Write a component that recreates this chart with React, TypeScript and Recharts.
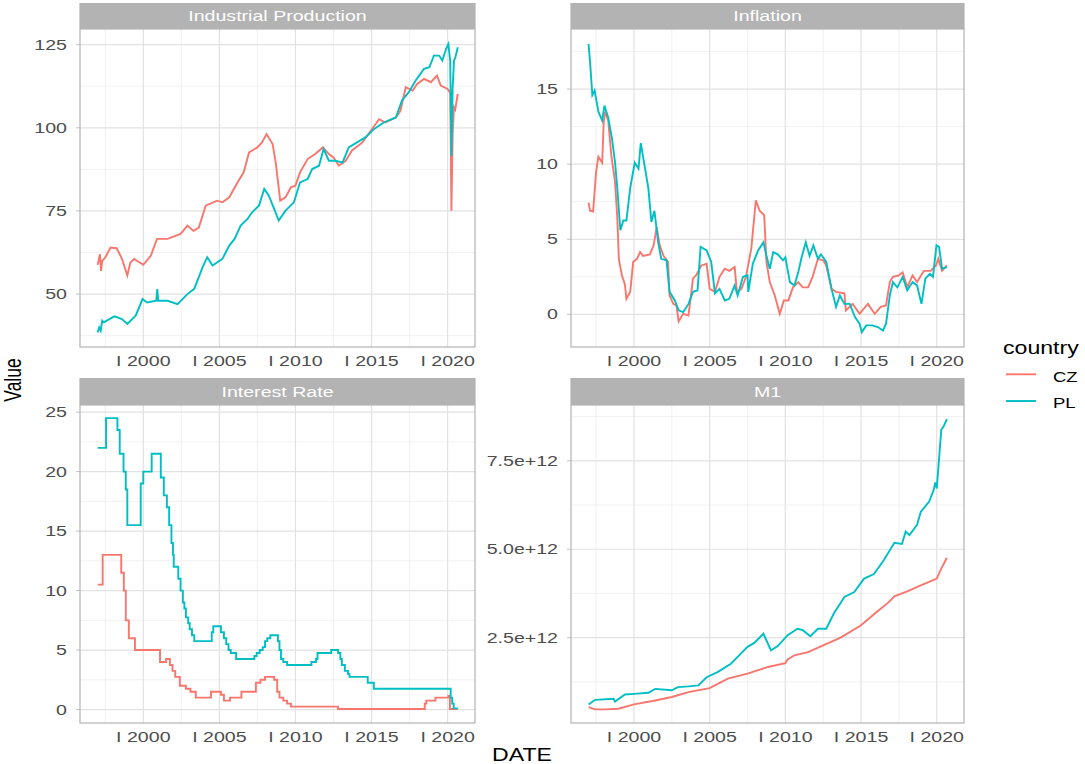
import React from 'react';
import { LineChart, Line, XAxis, YAxis, CartesianGrid } from 'recharts';

// ---- data (decimal year, value) ----

// Industrial Production
const ipCzDate = [1997.0, 1997.15, 1997.22, 1997.3, 1997.5, 1997.85, 1998.25, 1998.6, 1998.95, 1999.15, 1999.4, 2000.0, 2000.5, 2000.9, 2001.6, 2002.45, 2002.9, 2003.3, 2003.65, 2004.1, 2004.85, 2005.2, 2005.65, 2006.2, 2006.6, 2006.95, 2007.5, 2007.8, 2008.1, 2008.5, 2008.7, 2009.0, 2009.35, 2009.7, 2010.0, 2010.3, 2010.8, 2011.3, 2011.8, 2012.2, 2012.5, 2012.85, 2013.3, 2013.7, 2014.4, 2014.95, 2015.5, 2015.9, 2016.6, 2016.9, 2017.25, 2017.7, 2018.0, 2018.45, 2018.9, 2019.3, 2019.55, 2020.0, 2020.17, 2020.25, 2020.33, 2020.42, 2020.5, 2020.67];
const ipCzValue = [58.8, 62, 57, 60, 61, 64, 63.8, 60.6, 55.6, 59.5, 60.6, 58.8, 61.6, 66.6, 66.6, 68.1, 70.6, 69, 70, 76.6, 78.1, 77.6, 79.1, 83.6, 86.6, 92.6, 94.1, 95.6, 98.1, 95.1, 89.6, 78.1, 79.1, 82.1, 82.6, 86.6, 90.6, 92.1, 94.1, 92.1, 91.1, 88.6, 90.1, 93.1, 95.6, 99.1, 102.6, 101.6, 103.1, 105.1, 112.2, 111.2, 113.2, 114.7, 113.7, 115.7, 112.7, 111.7, 110.5, 75.1, 98, 106.2, 105.5, 110.2];
const ipPlDate = [1997.0, 1997.1, 1997.2, 1997.3, 1997.4, 1998.1, 1998.6, 1998.95, 1999.5, 1999.95, 2000.25, 2000.85, 2000.92, 2000.98, 2001.6, 2002.25, 2002.9, 2003.35, 2003.9, 2004.2, 2004.55, 2005.2, 2005.65, 2006.0, 2006.4, 2006.85, 2007.15, 2007.6, 2007.95, 2008.25, 2008.6, 2008.9, 2009.35, 2009.9, 2010.3, 2010.8, 2011.1, 2011.55, 2011.85, 2012.2, 2012.6, 2013.1, 2013.5, 2014.05, 2014.6, 2015.15, 2015.8, 2016.6, 2017.0, 2017.45, 2017.9, 2018.45, 2018.8, 2019.1, 2019.45, 2019.65, 2019.9, 2020.05, 2020.17, 2020.25, 2020.33, 2020.42, 2020.5, 2020.67];
const ipPlValue = [38.5, 40, 39, 42, 41.5, 43.3, 42.5, 41, 43.5, 48.5, 47.5, 48, 51.5, 48, 48, 47, 50, 51.6, 58.1, 61.1, 58.6, 60.6, 64.6, 66.6, 70.6, 72.6, 74.6, 76.6, 81.6, 79.6, 75.6, 72.1, 75.1, 77.6, 83.6, 84.6, 87.6, 88.6, 93.6, 90.1, 90.1, 89.6, 94.1, 95.6, 97.1, 99.6, 101.6, 103.1, 108.2, 110.7, 114.2, 117.7, 118.2, 121.7, 121.7, 120.2, 123.7, 125.2, 120, 91.6, 112, 120.2, 121, 124.2];

// Inflation
const infCzDate = [1997.0, 1997.1, 1997.3, 1997.5, 1997.65, 1997.9, 1998.0, 1998.1, 1998.3, 1998.5, 1998.75, 1998.9, 1999.0, 1999.2, 1999.4, 1999.5, 1999.75, 1999.95, 2000.2, 2000.4, 2000.6, 2001.05, 2001.3, 2001.5, 2001.7, 2001.95, 2002.25, 2002.35, 2002.6, 2002.8, 2002.95, 2003.25, 2003.6, 2003.9, 2004.1, 2004.45, 2004.8, 2005.0, 2005.35, 2005.65, 2006.0, 2006.3, 2006.65, 2006.8, 2007.1, 2007.4, 2007.75, 2008.05, 2008.3, 2008.6, 2008.75, 2008.97, 2009.3, 2009.63, 2009.9, 2010.2, 2010.5, 2010.85, 2011.15, 2011.5, 2011.8, 2012.15, 2012.5, 2012.7, 2013.05, 2013.35, 2013.9, 2014.0, 2014.45, 2014.9, 2015.45, 2015.9, 2016.3, 2016.65, 2016.9, 2017.1, 2017.5, 2017.75, 2018.05, 2018.4, 2018.7, 2019.15, 2019.6, 2019.95, 2020.1, 2020.35, 2020.67];
const infCzValue = [7.43, 6.9, 6.85, 9.5, 10.5, 10.1, 12.8, 13.5, 12.9, 10.6, 8.8, 6.4, 3.7, 2.6, 2.0, 1.04, 1.5, 3.5, 3.7, 4.15, 3.9, 4.0, 4.6, 5.8, 4.6, 3.9, 3.5, 1.26, 0.7, 0.6, -0.47, 0.04, -0.07, 2.4, 2.6, 3.26, 3.37, 1.7, 1.5, 2.5, 3.04, 2.9, 3.15, 1.5, 1.7, 2.5, 4.4, 7.6, 6.9, 6.6, 3.5, 2.15, 1.26, 0.04, 0.93, 0.93, 1.8, 2.15, 1.8, 1.8, 2.5, 3.7, 3.6, 3.26, 1.7, 1.5, 1.4, 0.27, 0.7, 0.04, 0.7, 0.04, 0.5, 0.6, 2.15, 2.5, 2.6, 2.8, 1.8, 2.6, 2.15, 2.9, 2.9, 3.26, 3.7, 2.9, 3.26];
const infPlDate = [1997.0, 1997.1, 1997.25, 1997.4, 1997.65, 1997.9, 1998.05, 1998.3, 1998.55, 1998.75, 1998.9, 1999.1, 1999.3, 1999.5, 1999.75, 2000.05, 2000.3, 2000.45, 2000.7, 2000.95, 2001.15, 2001.35, 2001.6, 2001.8, 2002.15, 2002.35, 2002.7, 2002.95, 2003.25, 2003.6, 2003.9, 2004.2, 2004.4, 2004.8, 2005.1, 2005.35, 2005.65, 2006.0, 2006.3, 2006.65, 2006.85, 2007.2, 2007.5, 2007.55, 2007.85, 2008.2, 2008.55, 2008.75, 2008.97, 2009.2, 2009.5, 2009.85, 2010.0, 2010.3, 2010.6, 2010.85, 2011.05, 2011.35, 2011.6, 2011.85, 2012.15, 2012.35, 2012.7, 2013.05, 2013.35, 2013.6, 2013.9, 2014.25, 2014.6, 2014.9, 2015.05, 2015.35, 2015.75, 2016.1, 2016.45, 2016.65, 2016.9, 2017.1, 2017.4, 2017.75, 2018.05, 2018.4, 2018.7, 2018.99, 2019.25, 2019.55, 2019.75, 2019.98, 2020.15, 2020.35, 2020.67];
const infPlValue = [18.0, 16.8, 14.6, 14.9, 13.5, 12.9, 13.9, 13.1, 11.7, 10.1, 8.4, 5.6, 6.25, 6.25, 8.4, 10.1, 9.7, 11.4, 9.9, 8.4, 6.15, 6.9, 4.8, 3.7, 3.6, 1.5, 0.93, 0.27, 0.15, 0.7, 1.5, 1.6, 4.5, 4.26, 3.5, 1.4, 1.7, 0.93, 1.04, 1.93, 1.26, 2.5, 2.6, 1.5, 3.37, 4.26, 4.8, 3.9, 3.04, 4.15, 4.0, 3.6, 3.8, 2.15, 1.93, 2.8, 3.7, 4.8, 3.9, 4.6, 3.7, 4.0, 3.5, 1.7, 0.5, 1.26, 0.7, 0.7, -0.18, -0.62, -1.18, -0.73, -0.73, -0.84, -1.07, -0.62, 1.26, 2.15, 1.8, 2.5, 1.6, 2.15, 1.93, 0.7, 2.4, 2.7, 2.5, 4.6, 4.5, 3.04, 3.15];

// Interest Rate (value holds from date until next date)
const irCzDate = [1997.0, 1997.33, 1998.55, 1998.72, 1998.85, 1999.05, 1999.45, 2001.1, 2001.5, 2001.75, 2001.92, 2002.1, 2002.4, 2002.8, 2003.1, 2003.45, 2004.45, 2005.1, 2005.3, 2005.7, 2006.45, 2007.4, 2007.7, 2008.0, 2008.6, 2008.8, 2008.95, 2009.2, 2009.45, 2009.7, 2012.8, 2018.5, 2018.6, 2019.2, 2020.05, 2020.15, 2020.67];
const irCzValue = [10.5, 13, 11.5, 10, 7.5, 6, 5, 4, 4.25, 3.75, 3.25, 2.75, 2, 1.75, 1.5, 1, 1.5, 1.25, 0.75, 1, 1.5, 2.25, 2.5, 2.75, 2.5, 1.5, 1, 0.75, 0.5, 0.25, 0.05, 0.5, 0.75, 1, 1.15, 0.05, 0.05];
const irPlDate = [1997.0, 1997.55, 1998.3, 1998.45, 1998.7, 1998.85, 1998.95, 1999.83, 2000.0, 2000.55, 2001.15, 2001.35, 2001.55, 2001.7, 2001.85, 2001.95, 2002.0, 2002.3, 2002.45, 2002.6, 2002.7, 2002.8, 2002.95, 2003.05, 2003.2, 2003.35, 2004.5, 2004.6, 2005.1, 2005.3, 2005.45, 2005.6, 2005.75, 2006.1, 2007.3, 2007.45, 2007.65, 2007.85, 2008.0, 2008.15, 2008.35, 2008.85, 2008.95, 2009.05, 2009.2, 2009.45, 2011.05, 2011.35, 2011.45, 2012.35, 2012.8, 2012.95, 2013.05, 2013.25, 2013.45, 2013.55, 2014.75, 2015.15, 2020.2, 2020.3, 2020.4, 2020.67];
const irPlValue = [22, 24.5, 23.5, 21.5, 20, 18.5, 15.5, 19, 20, 21.5, 19.5, 18, 17, 15.5, 14, 13, 12, 11, 10, 9, 8.5, 7.75, 7.25, 6.75, 6.25, 5.75, 6.5, 7, 6.5, 6, 5.5, 5, 4.75, 4.25, 4.5, 4.75, 5, 5.25, 5.75, 6, 6.25, 5.75, 5, 4.25, 4, 3.75, 4, 4.25, 4.75, 5, 4.75, 4.25, 3.75, 3.25, 3, 2.75, 2.25, 1.75, 1, 0.5, 0.1, 0.1];

// M1
const m1CzDate = [1997.0, 1997.43, 1998.1, 1998.97, 2000.0, 2001.4, 2002.5, 2003.6, 2005.0, 2006.2, 2007.5, 2008.85, 2010.0, 2010.15, 2010.6, 2011.5, 2012.5, 2013.65, 2015.0, 2016.05, 2016.85, 2017.2, 2018.05, 2018.95, 2020.0, 2020.25, 2020.67];
const m1CzValue = [0.534e12, 0.47e12, 0.47e12, 0.49e12, 0.61e12, 0.72e12, 0.82e12, 0.96e12, 1.07e12, 1.34e12, 1.48e12, 1.67e12, 1.78e12, 1.88e12, 2.0e12, 2.09e12, 2.28e12, 2.5e12, 2.85e12, 3.23e12, 3.51e12, 3.67e12, 3.81e12, 3.98e12, 4.17e12, 4.41e12, 4.76e12];
const m1PlDate = [1997.0, 1997.43, 1998.65, 1998.75, 1999.4, 2000.0, 2000.95, 2001.4, 2002.5, 2002.9, 2003.6, 2004.25, 2004.8, 2005.55, 2006.4, 2006.95, 2007.5, 2007.95, 2008.55, 2009.05, 2009.5, 2010.15, 2010.8, 2011.15, 2011.65, 2012.15, 2012.7, 2013.2, 2013.9, 2014.55, 2015.2, 2015.85, 2016.5, 2017.2, 2017.7, 2017.95, 2018.2, 2018.7, 2018.95, 2019.5, 2019.8, 2019.9, 2020.0, 2020.3, 2020.45, 2020.67];
const m1PlValue = [0.61e12, 0.74e12, 0.77e12, 0.69e12, 0.89e12, 0.91e12, 0.94e12, 1.05e12, 1.01e12, 1.1e12, 1.12e12, 1.15e12, 1.38e12, 1.53e12, 1.76e12, 2.0e12, 2.24e12, 2.35e12, 2.61e12, 2.14e12, 2.26e12, 2.57e12, 2.75e12, 2.71e12, 2.54e12, 2.75e12, 2.75e12, 3.18e12, 3.65e12, 3.79e12, 4.17e12, 4.3e12, 4.69e12, 5.18e12, 5.15e12, 5.5e12, 5.4e12, 5.69e12, 6.06e12, 6.35e12, 6.68e12, 6.89e12, 6.72e12, 8.38e12, 8.47e12, 8.68e12];

// axis breaks
const xDomain = [1995.84, 2021.8];
const xMajor = [2000, 2005, 2010, 2015, 2020];
const xMinor = [1997.5, 2002.5, 2007.5, 2012.5, 2017.5];

const ipMajor = [50, 75, 100, 125];
const ipMinor = [37.5, 62.5, 87.5, 112.5];
const infMajor = [0, 5, 10, 15];
const infMinor = [2.5, 7.5, 12.5, 17.5];
const irMajor = [0, 5, 10, 15, 20, 25];
const irMinor = [2.5, 7.5, 12.5, 17.5, 22.5];
const m1Major = [2.5e12, 5e12, 7.5e12];
const m1Minor = [1.25e12, 3.75e12, 6.25e12, 8.75e12];

const CZ = '#F8766D';
const PL = '#00BFC4';
const FONT = '"Liberation Sans", Arial, sans-serif';
const SX = 1.32; // text in the reference is drawn horizontally stretched
const SX_SMALL = 1.4;

const pairs = (d: number[], v: number[]) => d.map((x, i) => ({ date: x, value: v[i] }));

const gen = (values: number[], dom: number[], horizontal: boolean) => (args: any) => {
  const axis = horizontal ? args.yAxis : args.xAxis;
  if (axis && typeof axis.scale === 'function') {
    const out = values.map((v) => axis.scale(v));
    if (out.every((p) => Number.isFinite(p))) return out;
  }
  const o = args.offset;
  return horizontal
    ? values.map((v) => o.top + ((dom[1] - v) / (dom[1] - dom[0])) * o.height)
    : values.map((v) => o.left + ((v - dom[0]) / (dom[1] - dom[0])) * o.width);
};

const XTick = (props: any) => {
  const { x, y, payload } = props;
  return (
    <g transform={`translate(${x},${y}) scale(${SX_SMALL},1)`}>
      <text textAnchor="middle" dy="0.71em" fill="#4D4D4D" fontSize={14} fontFamily={FONT}>
        {`I ${payload.value}`}
      </text>
    </g>
  );
};

const makeYTick = (fmt: (v: number) => string) => (props: any) => {
  const { x, y, payload } = props;
  return (
    <g transform={`translate(${x},${y}) scale(${SX_SMALL},1)`}>
      <text textAnchor="end" dy="0.355em" fill="#4D4D4D" fontSize={14} fontFamily={FONT}>
        {fmt(payload.value)}
      </text>
    </g>
  );
};

interface PanelProps {
  left: number;
  top: number;
  width: number;
  yAxisWidth: number;
  yDomain: number[];
  yMajor: number[];
  yMinor: number[];
  fmt: (v: number) => string;
  cz: { date: number; value: number }[];
  pl: { date: number; value: number }[];
  step?: boolean;
}

const PLOT_H = 318;

const Panel: React.FC<PanelProps> = ({ left, top, width, yAxisWidth, yDomain, yMajor, yMinor, fmt, cz, pl, step }) => (
  <div style={{ position: 'absolute', left, top }}>
    <LineChart width={width} height={PLOT_H + 30} margin={{ top: 0, right: 0, bottom: 0, left: 0 }}>
      <CartesianGrid
        stroke="#EEEEEE"
        strokeWidth={0.8}
        verticalCoordinatesGenerator={gen(xMinor, xDomain, false)}
        horizontalCoordinatesGenerator={gen(yMinor, yDomain, true)}
      />
      <CartesianGrid
        stroke="#E2E2E2"
        strokeWidth={1.2}
        verticalCoordinatesGenerator={gen(xMajor, xDomain, false)}
        horizontalCoordinatesGenerator={gen(yMajor, yDomain, true)}
      />
      <XAxis
        type="number"
        dataKey="date"
        domain={xDomain}
        ticks={xMajor}
        interval={0}
        allowDataOverflow
        axisLine={false}
        tickLine={false}
        tickSize={0}
        tickMargin={9}
        height={30}
        tick={XTick}
      />
      <YAxis
        type="number"
        dataKey="value"
        domain={yDomain}
        ticks={yMajor}
        interval={0}
        allowDataOverflow
        axisLine={false}
        tickLine={{ stroke: '#B3B3B3', strokeWidth: 0.8 }}
        tickSize={4}
        tickMargin={9}
        width={yAxisWidth}
        tick={makeYTick(fmt)}
      />
      <Line data={cz} dataKey="value" type={step ? 'stepAfter' : 'linear'} stroke={CZ} strokeWidth={1.9} dot={false} isAnimationActive={false} />
      <Line data={pl} dataKey="value" type={step ? 'stepAfter' : 'linear'} stroke={PL} strokeWidth={1.9} dot={false} isAnimationActive={false} />
    </LineChart>
  </div>
);

const SText: React.FC<{ x: number; y: number; size: number; fill: string; sx?: number; anchor?: string; children: React.ReactNode }> = ({ x, y, size, fill, sx = SX, anchor = 'middle', children }) => (
  <g transform={`translate(${x},${y}) scale(${sx},1)`}>
    <text textAnchor={anchor as any} fontSize={size} fill={fill} fontFamily={FONT}>
      {children}
    </text>
  </g>
);

const strips = [
  { x: 80, y: 3, w: 395, h: 26, label: 'Industrial Production', ty: 21.3 },
  { x: 571, y: 3, w: 393, h: 26, label: 'Inflation', ty: 21.3 },
  { x: 80, y: 378, w: 395, h: 27, label: 'Interest Rate', ty: 396.5 },
  { x: 571, y: 378, w: 393, h: 27, label: 'M1', ty: 396.5 },
];

const plotBoxes = [
  { x: 80, y: 29, w: 395, h: PLOT_H },
  { x: 571, y: 29, w: 393, h: PLOT_H },
  { x: 80, y: 405, w: 395, h: PLOT_H },
  { x: 571, y: 405, w: 393, h: PLOT_H },
];

const plain = (v: number) => String(v);
const sci = (v: number) => `${(v / 1e12).toFixed(1)}e+12`;

export default function App() {
  return (
    <div style={{ position: 'absolute', left: 0, top: 0, width: 1085, height: 764, background: '#fff', overflow: 'hidden' }}>
      <Panel left={0} top={29} width={475} yAxisWidth={80} yDomain={[34.1, 129.7]} yMajor={ipMajor} yMinor={ipMinor} fmt={plain} cz={pairs(ipCzDate, ipCzValue)} pl={pairs(ipPlDate, ipPlValue)} />
      <Panel left={461} top={29} width={503} yAxisWidth={110} yDomain={[-2.17, 19.0]} yMajor={infMajor} yMinor={infMinor} fmt={plain} cz={pairs(infCzDate, infCzValue)} pl={pairs(infPlDate, infPlValue)} />
      <Panel left={0} top={405} width={475} yAxisWidth={80} yDomain={[-1.13, 25.6]} yMajor={irMajor} yMinor={irMinor} fmt={plain} cz={pairs(irCzDate, irCzValue)} pl={pairs(irPlDate, irPlValue)} step />
      <Panel left={461} top={405} width={503} yAxisWidth={110} yDomain={[0.085e12, 9.08e12]} yMajor={m1Major} yMinor={m1Minor} fmt={sci} cz={pairs(m1CzDate, m1CzValue)} pl={pairs(m1PlDate, m1PlValue)} />
      <svg width={1085} height={764} style={{ position: 'absolute', left: 0, top: 0, pointerEvents: 'none' }}>
        {plotBoxes.map((b, i) => (
          <rect key={i} x={b.x} y={b.y} width={b.w} height={b.h} fill="none" stroke="#B3B3B3" strokeWidth={1.2} />
        ))}
        {strips.map((s) => (
          <g key={s.label}>
            <rect x={s.x - 0.6} y={s.y} width={s.w + 1.2} height={s.h} fill="#B3B3B3" />
            <SText x={s.x + s.w / 2} y={s.ty} size={14} sx={SX_SMALL} fill="#FFFFFF">{s.label}</SText>
          </g>
        ))}
        <g transform="translate(21,380) scale(1.32,1) rotate(-90)">
          <text textAnchor="middle" fontSize={17.5} fill="#000" fontFamily={FONT}>Value</text>
        </g>
        <SText x={522} y={761} size={17.5} fill="#000">DATE</SText>
        <SText x={1003} y={354} size={17.5} fill="#000" anchor="start">country</SText>
        <line x1={1006} x2={1036} y1={374.3} y2={374.3} stroke={CZ} strokeWidth={1.9} />
        <line x1={1006} x2={1036} y1={401} y2={401} stroke={PL} strokeWidth={1.9} />
        <SText x={1053} y={381.5} size={14} fill="#000" anchor="start">CZ</SText>
        <SText x={1053} y={407.5} size={14} fill="#000" anchor="start">PL</SText>
      </svg>
    </div>
  );
}
